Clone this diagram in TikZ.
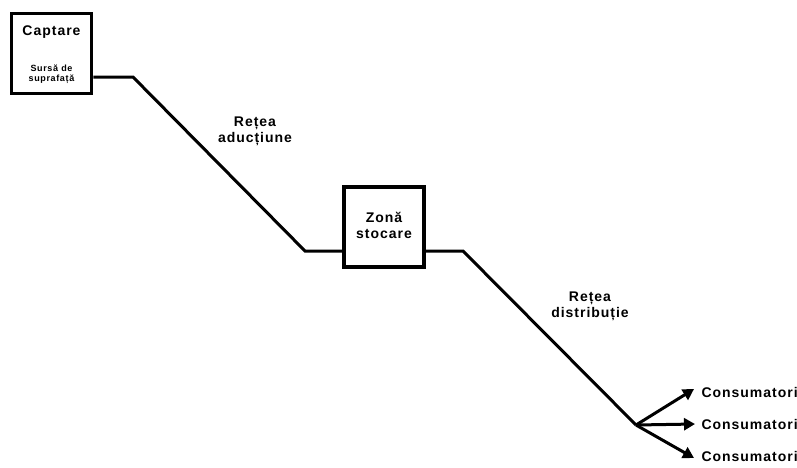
\documentclass[tikz,border=0pt]{standalone}
\usepackage{fontspec}
\setmainfont{Liberation Sans}[LetterSpace=7]
\usetikzlibrary{arrows.meta}
\begin{document}
\begin{tikzpicture}[x=1pt,y=-1pt,
  box/.style={draw,line width=3.5pt,minimum width=80pt,minimum height=80pt,inner sep=0pt,fill=white},
  lbl/.style={font=\bfseries\fontsize{14}{16}\selectfont,align=center,text=black},
  pipe/.style={line width=3pt,line join=miter},
  arr/.style={line width=3pt,-{Triangle[length=11pt,width=12pt]}}]
\useasboundingbox (0,0) rectangle (797,467);
\node[box] (capt) at (51.5,53.5) {};
\node[lbl,anchor=center] (capttxt) at (51.5,32) {Captare};
\node[font=\bfseries\fontsize{9}{9.5}\selectfont,align=center,text=black] (surs) at (51.5,74) {Sursă de\\suprafață};
\node[box] (stoc) at (384,227) {};
\node[lbl] (stoctxt) at (384,225) {Zonă\\stocare};
\coordinate (c1) at (133,77);
\coordinate (c2) at (305,251);
\coordinate (c3) at (463,251);
\coordinate (c4) at (636,425);
\draw[pipe] (capt.east |- c1) -- (c1) -- (c2) -- (stoc.west |- c2);
\draw[pipe] (stoc.east |- c3) -- (c3) -- (c4);
\node[lbl] (adu) at (255,131) {Rețea\\aducțiune};
\node[lbl] (dist) at (590,306) {Rețea\\distribuție};
\node[lbl,anchor=west] (k1) at (698,392) {Consumatori};
\node[lbl,anchor=west] (k2) at (698,424) {Consumatori};
\node[lbl,anchor=west] (k3) at (698,456) {Consumatori};
\draw[arr] (c4) -- (694,389);
\draw[arr] (c4) -- (695,424);
\draw[arr] (c4) -- (694,458);
\end{tikzpicture}
\end{document}
